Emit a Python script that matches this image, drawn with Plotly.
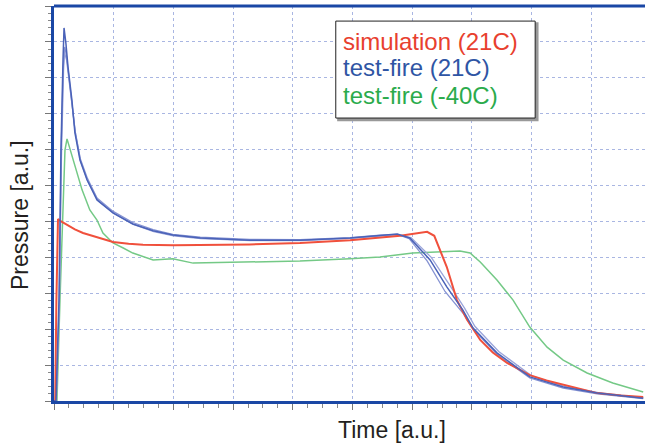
import plotly.graph_objects as go

# ---- data (a.u.) ----
sim_x = [0.0, 0.02, 0.04, 0.067, 0.12, 0.218, 0.35, 0.486, 0.77, 0.988, 1.25, 1.49, 2.0, 2.45, 3.28, 4.12, 4.96, 5.80, 6.25, 6.37, 6.47, 6.58, 6.75, 6.92, 7.14, 7.35, 7.59, 7.97, 8.25, 8.53, 9.10, 9.50, 9.87]
sim_y = [0.0, 0.0, 2.8, 5.07, 5.0, 4.90, 4.78, 4.68, 4.54, 4.43, 4.38, 4.35, 4.34, 4.35, 4.36, 4.40, 4.48, 4.60, 4.71, 4.60, 4.21, 3.73, 2.81, 2.26, 1.70, 1.35, 1.06, 0.72, 0.57, 0.45, 0.22, 0.15, 0.11]

tf21a_x = [0.0, 0.034, 0.084, 0.117, 0.151, 0.168, 0.20, 0.235, 0.30, 0.35, 0.435, 0.553, 0.72, 0.988, 1.32, 1.66, 1.99, 2.45, 3.28, 4.12, 4.96, 5.46, 5.75, 5.96, 6.30, 6.58, 6.85, 7.02, 7.42, 7.97, 8.53, 9.10, 9.87]
tf21a_y = [0.0, 0.0, 2.81, 6.99, 9.50, 10.39, 9.95, 9.30, 8.38, 7.47, 6.71, 6.16, 5.60, 5.24, 4.93, 4.74, 4.62, 4.54, 4.48, 4.48, 4.54, 4.62, 4.65, 4.54, 3.93, 3.18, 2.53, 2.03, 1.34, 0.67, 0.39, 0.22, 0.08]

tf21b_x = [0.0, 0.034, 0.09, 0.12, 0.155, 0.18, 0.21, 0.24, 0.30, 0.355, 0.44, 0.56, 0.72, 0.99, 1.32, 1.66, 1.99, 2.45, 3.28, 4.12, 4.96, 5.46, 5.75, 5.95, 6.25, 6.55, 6.85, 7.02, 7.42, 7.97, 8.53, 9.10, 9.87]
tf21b_y = [0.0, 0.0, 2.9, 7.0, 9.3, 9.86, 9.6, 9.1, 8.3, 7.5, 6.75, 6.2, 5.65, 5.28, 4.97, 4.77, 4.64, 4.56, 4.50, 4.49, 4.55, 4.62, 4.64, 4.52, 3.90, 3.05, 2.45, 2.0, 1.30, 0.64, 0.36, 0.20, 0.07]

tf21c_x = [0.0, 0.04, 0.09, 0.125, 0.16, 0.175, 0.21, 0.245, 0.31, 0.36, 0.445, 0.565, 0.74, 1.0, 1.33, 1.67, 2.0, 2.46, 3.29, 4.13, 4.97, 5.47, 5.74, 5.98, 6.32, 6.62, 6.88, 7.05, 7.45, 8.0, 8.55, 9.12, 9.87]
tf21c_y = [0.0, 0.0, 2.7, 6.8, 9.2, 9.7, 9.5, 9.0, 8.25, 7.45, 6.68, 6.12, 5.58, 5.22, 4.92, 4.72, 4.60, 4.52, 4.47, 4.47, 4.53, 4.60, 4.63, 4.55, 4.0, 3.25, 2.58, 2.08, 1.38, 0.70, 0.41, 0.23, 0.09]

tf40_x = [0.0, 0.05, 0.10, 0.15, 0.184, 0.218, 0.30, 0.385, 0.47, 0.60, 0.72, 0.82, 0.988, 1.16, 1.32, 1.66, 1.99, 2.33, 3.28, 4.12, 4.96, 5.46, 6.01, 6.80, 6.97, 7.14, 7.42, 7.69, 7.97, 8.26, 8.53, 8.93, 9.36, 9.87]
tf40_y = [0.0, 0.0, 2.81, 5.6, 6.99, 7.30, 6.85, 6.35, 5.88, 5.32, 5.04, 4.68, 4.40, 4.26, 4.12, 3.93, 3.96, 3.84, 3.87, 3.90, 3.96, 4.01, 4.12, 4.18, 4.12, 3.87, 3.37, 2.81, 2.06, 1.50, 1.14, 0.78, 0.50, 0.25]

legend_labels = ["simulation (21C)", "test-fire (21C)", "test-fire (-40C)"]
legend_colors = ["#e8402e", "#2f55a4", "#2bab4c"]

X_RANGE = [0, 9.9]
Y_RANGE = [0, 11]

fig = go.Figure()
fig.add_trace(go.Scatter(x=tf40_x, y=tf40_y, mode="lines", line=dict(color="#74c986", width=1.5)))
fig.add_trace(go.Scatter(x=tf21c_x, y=tf21c_y, mode="lines", line=dict(color="#9aa4da", width=1.3)))
fig.add_trace(go.Scatter(x=tf21b_x, y=tf21b_y, mode="lines", line=dict(color="#8592d2", width=1.3)))
fig.add_trace(go.Scatter(x=sim_x, y=sim_y, mode="lines", line=dict(color="#f0503c", width=2)))
fig.add_trace(go.Scatter(x=tf21a_x, y=tf21a_y, mode="lines", line=dict(color="#4a62b8", width=1.5)))

axis_common = dict(
    showticklabels=False,
    showgrid=True, gridcolor="#a9b6e2", griddash="dot", gridwidth=1,
    zeroline=False,
    showline=True, linecolor="#1a47a5", linewidth=3,
    ticks="outside", ticklen=6, tickcolor="#777777", tickwidth=1,
)
fig.update_xaxes(range=X_RANGE, dtick=1, tick0=0,
                 minor=dict(dtick=0.25, ticks="outside", ticklen=4, tickcolor="#888888", showgrid=False),
                 **axis_common)
fig.update_yaxes(range=Y_RANGE, dtick=1, tick0=0,
                 minor=dict(dtick=0.2, ticks="outside", ticklen=3, tickcolor="#888888", showgrid=False),
                 **axis_common)

# top border
fig.add_shape(type="line", xref="paper", yref="paper", x0=0, x1=1, y0=1, y1=1,
              line=dict(color="#1a47a5", width=3))

# legend box (shadow + box)
fig.add_shape(type="rect", xref="x", yref="y", x0=4.76, x1=8.10, y0=7.82, y1=10.52,
              line=dict(color="#999999", width=2), fillcolor="#999999", layer="above")
fig.add_shape(type="rect", xref="x", yref="y", x0=4.72, x1=8.06, y0=7.88, y1=10.58,
              line=dict(color="#222222", width=1), fillcolor="white", layer="above")

leg_y = [10.0, 9.28, 8.5]
for lab, col, yy in zip(legend_labels, legend_colors, leg_y):
    fig.add_annotation(x=4.80, y=yy, xref="x", yref="y", text=lab, showarrow=False,
                       xanchor="left", yanchor="middle",
                       font=dict(family="Liberation Sans, Arial", size=24, color=col))

fig.add_annotation(text="Pressure [a.u.]", xref="paper", yref="paper",
                   x=-0.0575, y=0.471, xanchor="center", yanchor="middle", textangle=-90,
                   showarrow=False, font=dict(family="Liberation Sans, Arial", size=23, color="#231f20"))
fig.add_annotation(text="Time [a.u.]", xref="paper", yref="paper",
                   x=0.572, y=-0.0734, xanchor="center", yanchor="middle",
                   showarrow=False, font=dict(family="Liberation Sans, Arial", size=23, color="#231f20"))

fig.update_layout(
    width=645, height=443,
    margin=dict(l=54, r=0, t=6, b=42),
    plot_bgcolor="white", paper_bgcolor="white",
    showlegend=False,
)

fig.write_html("out.html")
